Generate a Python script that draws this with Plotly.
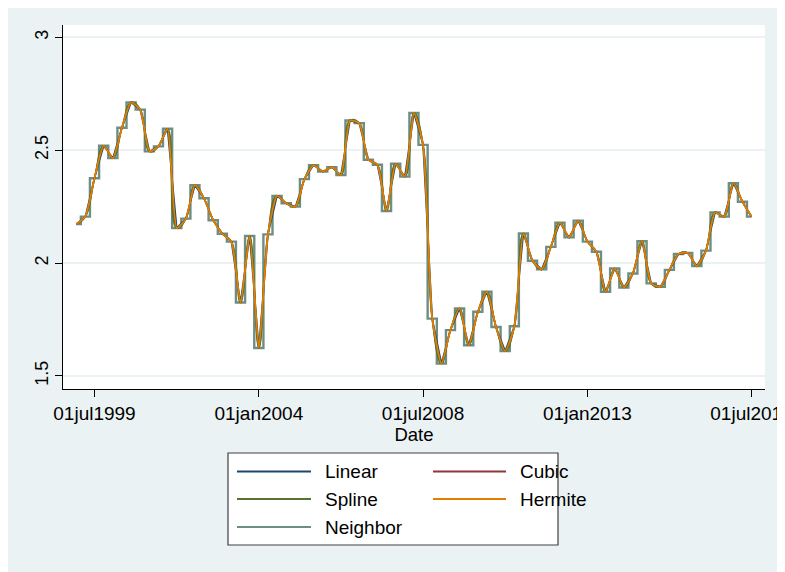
import pandas as pd
import plotly.graph_objects as go

dates = pd.date_range("1999-01-01", periods=75, freq="QS")
values = [
    2.173, 2.206, 2.376, 2.520, 2.465, 2.600, 2.712, 2.680, 2.495, 2.517,
    2.595, 2.155, 2.197, 2.345, 2.287, 2.190, 2.130, 2.095, 1.825, 2.120,
    1.624, 2.127, 2.298, 2.265, 2.250, 2.372, 2.434, 2.406, 2.425, 2.390,
    2.632, 2.620, 2.458, 2.436, 2.231, 2.440, 2.383, 2.665, 2.524, 1.754,
    1.555, 1.703, 1.799, 1.636, 1.784, 1.873, 1.717, 1.610, 1.720, 2.131,
    2.010, 1.972, 2.072, 2.179, 2.114, 2.188, 2.095, 2.050, 1.873, 1.976,
    1.892, 1.954, 2.097, 1.910, 1.895, 1.970, 2.040, 2.045, 1.987, 2.055,
    2.224, 2.206, 2.354, 2.272, 2.206,
]

series_names = ["Linear", "Cubic", "Spline", "Hermite", "Neighbor"]
series_colors = ["#1a476f", "#90353b", "#55752f", "#e37e00", "#6e8e84"]
line_shapes = ["linear", "spline", "spline", "spline", "hvh"]
smoothings = [None, 1.0, 1.3, 0.5, None]
widths = [1.6, 1.6, 1.6, 1.8, 2.4]

x_tickvals = ["1999-07-01", "2004-01-01", "2008-07-01", "2013-01-01", "2017-07-01"]
x_ticktext = ["01jul1999", "01jan2004", "01jul2008", "01jan2013", "01jul2017"]
y_tickvals = [1.5, 2, 2.5, 3]
y_ticktext = ["1.5", "2", "2.5", "3"]

# page body adds an 8px offset; figure sized so the plot lands where the reference has it
OFF = 8
W, H = 777, 564
ML, MT = 63 - OFF, 25 - OFF
PW, PH = 702, 364
MR, MB = W - ML - PW, H - MT - PH

def px(x):
    return (x - OFF - ML) / PW

def py(y):
    return (MT + PH - (y - OFF)) / PH

FONT = "Liberation Sans, Arial, sans-serif"
BG = "#eaf2f3"

fig = go.Figure()
draw_order = [4, 0, 1, 2, 3]
for i in draw_order:
    line = dict(color=series_colors[i], width=widths[i], shape=line_shapes[i])
    if smoothings[i] is not None:
        line["smoothing"] = smoothings[i]
    fig.add_trace(go.Scatter(x=dates, y=values, mode="lines", name=series_names[i],
                             line=line, showlegend=False, hoverinfo="skip"))

fig.update_layout(
    width=W, height=H,
    margin=dict(l=ML, r=MR, t=MT, b=MB, pad=0, autoexpand=False),
    paper_bgcolor=BG, plot_bgcolor="white",
    font=dict(family=FONT, size=18, color="black"),
    showlegend=False,
)
fig.update_xaxes(
    range=["1998-08-20", "2017-11-13"], automargin=False,
    tickvals=x_tickvals, ticktext=x_ticktext,
    showgrid=False, zeroline=False,
    showline=True, linecolor="black", linewidth=1.2,
    ticks="outside", ticklen=7, tickcolor="black", tickwidth=1.2,
    tickfont=dict(size=19), ticklabeloverflow="allow",
    title=dict(text="Date", font=dict(size=18.5), standoff=2),
)
fig.update_yaxes(
    range=[1.442, 3.055], automargin=False,
    tickvals=y_tickvals, ticktext=y_ticktext, tickangle=-90,
    showgrid=True, gridcolor=BG, gridwidth=1.5, zeroline=False,
    showline=True, linecolor="black", linewidth=1.2,
    ticks="outside", ticklen=7, tickcolor="black", tickwidth=1.2,
    tickfont=dict(size=18),
)

# Legend box (Stata-style, two columns)
shapes = [dict(type="rect", xref="paper", yref="paper",
               x0=px(228), x1=px(558), y0=py(453), y1=py(545),
               line=dict(color="#404040", width=1.2), fillcolor="white", layer="above")]
annotations = []
legend_pos = [(237, 311, 323, 471.5), (433, 506, 518, 471.5),
              (237, 311, 323, 499), (433, 506, 518, 499),
              (237, 311, 323, 527)]
for i, (lx0, lx1, tx, ly) in enumerate(legend_pos):
    shapes.append(dict(type="line", xref="paper", yref="paper",
                       x0=px(lx0), x1=px(lx1), y0=py(ly), y1=py(ly),
                       line=dict(color=series_colors[i], width=2), layer="above"))
    annotations.append(dict(xref="paper", yref="paper", x=px(tx), y=py(ly),
                            text=series_names[i], showarrow=False,
                            xanchor="left", yanchor="middle",
                            font=dict(size=19, family=FONT, color="black")))
fig.update_layout(shapes=shapes, annotations=annotations)

fig.write_html("out.html")
